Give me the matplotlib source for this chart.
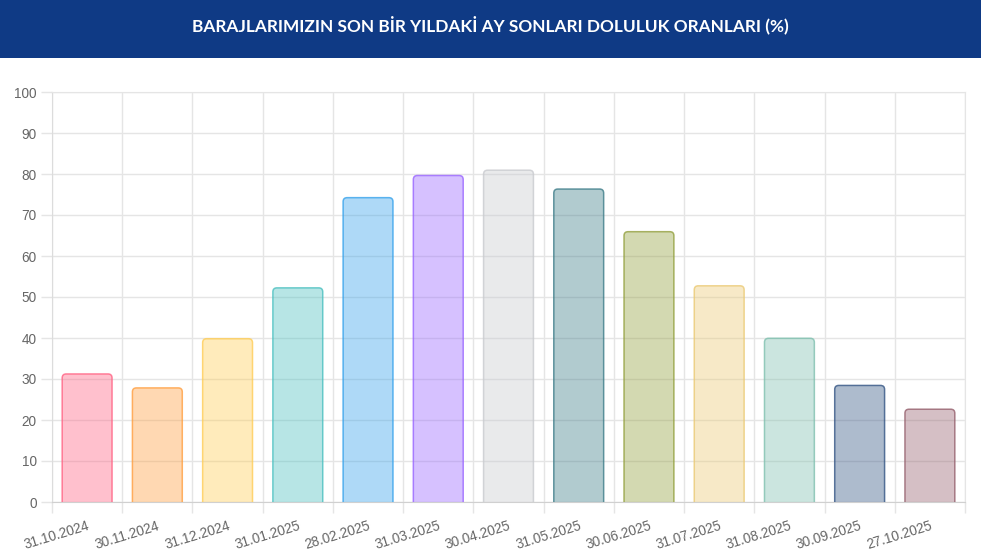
import matplotlib
matplotlib.use("Agg")
import matplotlib.pyplot as plt
from matplotlib.patches import FancyBboxPatch, Rectangle

# data
dates = ["31.10.2024", "30.11.2024", "31.12.2024", "31.01.2025", "28.02.2025",
         "31.03.2025", "30.04.2025", "31.05.2025", "30.06.2025", "31.07.2025",
         "31.08.2025", "30.09.2025", "27.10.2025"]
fill_pct = [31.4, 28.0, 40.0, 52.4, 74.4, 79.8, 81.1, 76.5, 66.1, 52.9, 40.1, 28.6, 22.8]
bar_rgb = [(255, 99, 132), (255, 159, 64), (255, 205, 86), (75, 192, 192),
           (54, 162, 235), (153, 102, 255), (201, 203, 207), (62, 125, 137),
           (147, 160, 62), (235, 202, 117), (127, 192, 175), (52, 85, 132),
           (150, 97, 110)]
title = "BARAJLARIMIZIN SON BİR YILDAKİ AY SONLARI DOLULUK ORANLARI (%)"

W, H = 981, 555
fig = plt.figure(figsize=(W / 100, H / 100), dpi=100)
fig.patch.set_facecolor("white")

# header band
fig.patches.append(Rectangle((0, 1 - 58 / H), 1, 58 / H, transform=fig.transFigure,
                             facecolor="#0f3a85", edgecolor="none", zorder=0))
fig.text(0.5, 1 - 25 / H, title, color="white", fontsize=12.4, fontweight="bold",
         family="Lato", ha="center", va="center")

ax = fig.add_axes([52 / W, (H - 502) / H, (965 - 52) / W, (502 - 92) / H])
n = len(dates)
ax.set_xlim(-0.5, n - 0.5)
ax.set_ylim(0, 100)

# pixel -> data scale for rounded corners
px_x = (n) / (965 - 52)
px_y = 100 / (502 - 92)
radius = 4 * px_x
aspect = px_y / px_x
bw = 0.71

for i, (v, c) in enumerate(zip(fill_pct, bar_rgb)):
    base = tuple(k / 255 for k in c)
    ext = 6 * px_y  # push rounded bottom below the axis so it is clipped
    p = FancyBboxPatch((i - bw / 2, -ext), bw, v + ext - 0.7 * px_y,
                       boxstyle=f"round,pad=0,rounding_size={radius}",
                       mutation_aspect=aspect,
                       facecolor=base + (0.4,), edgecolor=base + (0.8,), linewidth=1.1,
                       zorder=3)
    p.set_clip_on(True)
    ax.add_patch(p)

grid_c = "#e5e5e5"
ax.set_xticks([i - 0.5 for i in range(n + 1)])
ax.set_xticklabels([])
ax.set_xticks(range(n), minor=True)
ax.set_xticklabels(dates, minor=True, rotation=17, ha="right", rotation_mode="anchor",
                   color="#666666", fontsize=9.8, family="Liberation Sans")
ax.tick_params(axis="x", which="major", length=8, color=grid_c, width=1)
ax.tick_params(axis="x", which="minor", length=0, pad=12)
ax.set_yticks(range(0, 101, 10))
ax.set_yticklabels([str(t) for t in range(0, 101, 10)], family="Liberation Sans")
ax.tick_params(axis="y", length=8, color=grid_c, width=1, labelcolor="#666666",
               labelsize=9.8, pad=3)
ax.grid(True, which="major", color=grid_c, linewidth=1, zorder=0)
ax.set_axisbelow(True)
for s in ax.spines.values():
    s.set_color(grid_c)
ax.spines["bottom"].set_color("#d0d0d0")
ax.spines["left"].set_color("#dcdcdc")

fig.savefig("out.png", dpi=100)
